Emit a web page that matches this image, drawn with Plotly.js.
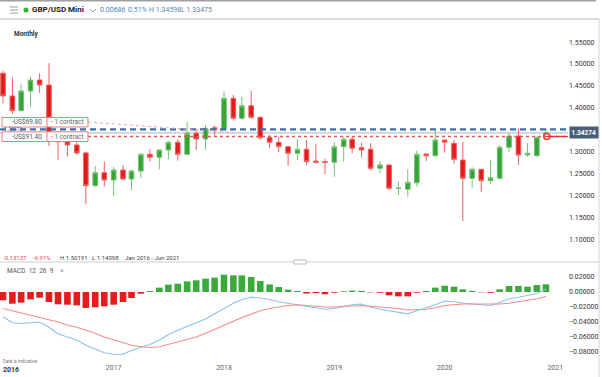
<!DOCTYPE html>
<html><head><meta charset="utf-8">
<script src="https://cdn.plot.ly/plotly-3.0.1.min.js"></script>
<style>html,body{margin:0;padding:0;background:#fff;overflow:hidden}#chart{width:602px;height:377px}</style>
</head><body><div id="chart"></div>
<script>
const months = [
 '2016-01-01','2016-02-01','2016-03-01','2016-04-01','2016-05-01','2016-06-01','2016-07-01','2016-08-01','2016-09-01','2016-10-01','2016-11-01','2016-12-01',
 '2017-01-01','2017-02-01','2017-03-01','2017-04-01','2017-05-01','2017-06-01','2017-07-01','2017-08-01','2017-09-01','2017-10-01','2017-11-01','2017-12-01',
 '2018-01-01','2018-02-01','2018-03-01','2018-04-01','2018-05-01','2018-06-01','2018-07-01','2018-08-01','2018-09-01','2018-10-01','2018-11-01','2018-12-01',
 '2019-01-01','2019-02-01','2019-03-01','2019-04-01','2019-05-01','2019-06-01','2019-07-01','2019-08-01','2019-09-01','2019-10-01','2019-11-01','2019-12-01',
 '2020-01-01','2020-02-01','2020-03-01','2020-04-01','2020-05-01','2020-06-01','2020-07-01','2020-08-01','2020-09-01','2020-10-01','2020-11-01','2020-12-01'];
const openP = [
 1.4788,1.4270,1.3934,1.4384,1.4635,1.4520,1.3264,1.3226,1.3150,1.2970,1.2222,1.2518,
 1.2352,1.2580,1.2374,1.2557,1.2938,1.2870,1.3037,1.3212,1.2938,1.3418,1.3288,1.3545,
 1.3500,1.4217,1.3760,1.4048,1.3783,1.3317,1.3212,1.3112,1.2961,1.3053,1.2785,1.2770,
 1.2756,1.3112,1.3281,1.3090,1.3053,1.2619,1.2694,1.2160,1.2140,1.2287,1.2945,1.2907,
 1.3265,1.3190,1.2808,1.2390,1.2596,1.2336,1.2390,1.3098,1.3356,1.2922,1.2907,1.3359];
const highP = [
 1.4847,1.4696,1.4536,1.4710,1.4788,1.5019,1.3480,1.3370,1.3226,1.2990,1.2671,1.2770,
 1.2655,1.2694,1.2580,1.2960,1.3053,1.3040,1.3245,1.3288,1.3683,1.3490,1.3607,1.3600,
 1.4368,1.4292,1.4253,1.4384,1.3800,1.3379,1.3340,1.3120,1.3288,1.3265,1.3167,1.2838,
 1.3226,1.3340,1.3340,1.3203,1.3189,1.2785,1.2717,1.2313,1.2596,1.3021,1.2959,1.3516,
 1.3270,1.3265,1.3226,1.2642,1.2600,1.2808,1.3151,1.3432,1.3532,1.3189,1.3340,1.3530];
const lowP = [
 1.4100,1.3858,1.3920,1.4025,1.4345,1.3128,1.2810,1.2884,1.2922,1.1797,1.2199,1.2200,
 1.1986,1.2350,1.2123,1.2390,1.2770,1.2596,1.2824,1.2792,1.2930,1.3037,1.3037,1.3340,
 1.3480,1.3710,1.3730,1.3744,1.3265,1.3075,1.2984,1.2671,1.2808,1.2694,1.2733,1.2482,
 1.2427,1.2770,1.2961,1.2870,1.2564,1.2505,1.2123,1.2009,1.1970,1.2199,1.2785,1.2884,
 1.2975,1.2733,1.1416,1.2176,1.2085,1.2260,1.2385,1.2984,1.2694,1.2884,1.2880,1.3265];
const closeP = [
 1.4270,1.3934,1.4384,1.4635,1.4520,1.3264,1.3226,1.3150,1.2970,1.2222,1.2518,1.2352,
 1.2580,1.2374,1.2557,1.2938,1.2870,1.3037,1.3212,1.2938,1.3418,1.3288,1.3532,1.3500,
 1.4217,1.3760,1.4048,1.3783,1.3317,1.3212,1.3112,1.2961,1.3053,1.2770,1.2756,1.2750,
 1.3112,1.3281,1.3075,1.3037,1.2619,1.2694,1.2162,1.2166,1.2299,1.2938,1.2907,1.3265,
 1.3212,1.2824,1.2390,1.2596,1.2336,1.2404,1.3098,1.3356,1.2922,1.2961,1.3326,1.3427];
const macdHist = [
 -0.0110,-0.0156,-0.0142,-0.0098,-0.0076,-0.0133,-0.0164,-0.0169,-0.0178,-0.0213,-0.0204,-0.0191,
 -0.0169,-0.0133,-0.0080,-0.0022,0.0013,0.0058,0.0098,0.0111,0.0142,0.0156,0.0178,0.0191,
 0.0231,0.0222,0.0222,0.0200,0.0147,0.0102,0.0067,0.0031,0.0013,-0.0020,-0.0015,-0.0030,
 -0.0010,0.0010,0.0018,0.0015,-0.0005,-0.0010,-0.0044,-0.0058,-0.0058,-0.0010,0.0015,0.0058,
 0.0084,0.0071,0.0036,0.0015,-0.0005,-0.0010,0.0036,0.0080,0.0080,0.0071,0.0093,0.0102];
const macdLine = [
 -0.033,-0.041,-0.042,-0.041,-0.040,-0.047,-0.056,-0.060,-0.064,-0.071,-0.076,-0.081,
 -0.083,-0.083,-0.078,-0.074,-0.070,-0.064,-0.057,-0.051,-0.046,-0.041,-0.036,-0.029,
 -0.022,-0.015,-0.010,-0.007,-0.008,-0.010,-0.013,-0.015,-0.017,-0.019,-0.021,-0.023,
 -0.022,-0.019,-0.017,-0.016,-0.020,-0.023,-0.025,-0.027,-0.029,-0.025,-0.021,-0.017,
 -0.012,-0.013,-0.015,-0.016,-0.017,-0.018,-0.014,-0.009,-0.007,-0.005,-0.002,0.004];
const signalLine = [
 -0.022,-0.025,-0.028,-0.031,-0.034,-0.037,-0.040,-0.044,-0.047,-0.051,-0.055,-0.060,
 -0.064,-0.068,-0.071,-0.073,-0.074,-0.073,-0.070,-0.067,-0.064,-0.060,-0.055,-0.050,
 -0.045,-0.039,-0.034,-0.029,-0.025,-0.022,-0.020,-0.018,-0.017,-0.018,-0.019,-0.020,
 -0.020,-0.019,-0.018,-0.018,-0.019,-0.020,-0.021,-0.022,-0.024,-0.024,-0.023,-0.021,
 -0.018,-0.017,-0.016,-0.016,-0.016,-0.017,-0.016,-0.015,-0.013,-0.012,-0.009,-0.006];
const yearTicks = ['2017-01-01','2018-01-01','2019-01-01','2020-01-01','2021-01-01'];
const yearLabels = ['2017','2018','2019','2020','2021'];
const firstYearLabel = '2016';
const priceTicks = [1.10,1.15,1.20,1.25,1.30,1.40,1.45,1.50,1.55];
const macdTicks = [0.02,0.00,-0.02,-0.04,-0.06,-0.08];
const currentPrice = 1.34274;
const alertLevel = 1.3508;
const orderLevel = 1.3345;
const orderMarkDate = '2020-12-04';
const xRange = ['2015-12-22','2021-02-12'];

// pixel -> paper helpers (layout decoration only)
const PL=0, PR=568, PT=22, PB=362;
const px = x => (x-PL)/(PR-PL);
const py = y => (PB-y)/(PB-PT);
const FONT = 'Roboto, "Open Sans", sans-serif';

const traces = [
 {type:'candlestick', x:months, open:openP, high:highP, low:lowP, close:closeP,
  xaxis:'x', yaxis:'y', whiskerwidth:0, hoverinfo:'skip',
  increasing:{line:{color:'#72c272', width:1}, fillcolor:'#35a335'},
  decreasing:{line:{color:'#ee6060', width:1}, fillcolor:'#e31b1b'}},
 {type:'bar', x:months, y:macdHist, xaxis:'x', yaxis:'y2', hoverinfo:'skip',
  marker:{color:macdHist.map(v=>v>=0?'#3aab3a':'#e31d1d'), line:{width:0}}},
 {type:'scatter', mode:'lines', x:months, y:macdLine, xaxis:'x', yaxis:'y2',
  line:{color:'#8fc1ea', width:1.2}, hoverinfo:'skip'},
 {type:'scatter', mode:'lines', x:months, y:signalLine, xaxis:'x', yaxis:'y2',
  line:{color:'#f28c8c', width:1.2}, hoverinfo:'skip'},
 {type:'scatter', mode:'markers', x:[orderMarkDate], y:[orderLevel], xaxis:'x', yaxis:'y',
  marker:{color:'#ffffff', size:6, line:{color:'#e03535', width:1.5}}, hoverinfo:'skip', cliponaxis:false}
];

const shapes = [
 {type:'line', xref:'paper', yref:'paper', x0:px(0), x1:px(596), y0:py(0.8), y1:py(0.8), line:{color:'#a0a0a0', width:1.6}},
 {type:'line', xref:'paper', yref:'paper', x0:px(0), x1:px(599), y0:py(19), y1:py(19), line:{color:'#dcdcdc', width:2}},
 {type:'line', xref:'paper', yref:'paper', x0:px(599), x1:px(599), y0:py(19), y1:py(377), line:{color:'#d4d4d4', width:1}},
 {type:'line', xref:'paper', yref:'paper', x0:px(0), x1:px(599), y0:py(262), y1:py(262), line:{color:'#cfcfcf', width:1.2}},
 {type:'rect', xref:'paper', yref:'paper', x0:px(294), x1:px(306), y0:py(264), y1:py(260), fillcolor:'#ffffff', line:{color:'#bdbdbd', width:1}},
 {type:'line', xref:'paper', yref:'paper', x0:px(10), x1:px(18), y0:py(7), y1:py(7), line:{color:'#9a9a9a', width:1}},
 {type:'line', xref:'paper', yref:'paper', x0:px(10), x1:px(18), y0:py(10), y1:py(10), line:{color:'#9a9a9a', width:1}},
 {type:'line', xref:'paper', yref:'paper', x0:px(10), x1:px(18), y0:py(13), y1:py(13), line:{color:'#9a9a9a', width:1}},
 {type:'circle', xref:'paper', yref:'paper', x0:px(23.5), x1:px(28.5), y0:py(7.5), y1:py(12.5), fillcolor:'#2fb52f', line:{width:0}},
 {type:'path', xref:'paper', yref:'paper', path:`M ${px(90)} ${py(9)} L ${px(93)} ${py(12)} L ${px(96)} ${py(9)}`, line:{color:'#999', width:1}},
 {type:'line', xref:'paper', yref:'y', x0:0, x1:1, y0:currentPrice, y1:currentPrice, line:{color:'#d5d9e0', width:2.2}, layer:'below'},
 {type:'line', xref:'paper', yref:'y', x0:0, x1:1, y0:alertLevel, y1:alertLevel, line:{color:'#3f6fa8', width:2.4, dash:'6px,4px'}},
 {type:'line', xref:'paper', yref:'y', x0:px(88), x1:1, y0:orderLevel, y1:orderLevel, line:{color:'#e25858', width:1.4, dash:'3px,3px'}},
 {type:'line', xref:'x', yref:'y', x0:orderMarkDate, x1:xRange[1], y0:orderLevel, y1:orderLevel, line:{color:'#e03535', width:1.4}},
 {type:'path', xref:'paper', yref:'paper', path:`M ${px(88)} ${py(122)} L ${px(150)} ${py(126.5)} L ${px(233)} ${py(132.5)}`, line:{color:'#f2a3a3', width:1, dash:'3px,3px'}},
 {type:'rect', xref:'paper', yref:'paper', x0:px(2), x1:px(88), y0:py(117.5), y1:py(127), fillcolor:'#ffffff', line:{color:'#e88080', width:1}},
 {type:'line', xref:'paper', yref:'paper', x0:px(47), x1:px(47), y0:py(117.5), y1:py(127), line:{color:'#e88080', width:1}},
 {type:'rect', xref:'paper', yref:'paper', x0:px(2), x1:px(88), y0:py(131.8), y1:py(141.5), fillcolor:'#ffffff', line:{color:'#e88080', width:1}},
 {type:'line', xref:'paper', yref:'paper', x0:px(47), x1:px(47), y0:py(131.8), y1:py(141.5), line:{color:'#e88080', width:1}}
];

function ann(x, y, text, size, color, anchor, extra){
 return Object.assign({xref:'paper', yref:'paper', x:px(x), y:py(y), text:text, showarrow:false,
  xanchor:anchor||'left', yanchor:'middle', font:{family:FONT, size:size, color:color}, borderpad:0}, extra||{});
}
const annotations = [
 ann(31, 10, '<b>GBP/USD Mini</b>', 8, '#222'),
 ann(99, 10.5, '0.00686', 7, '#4a86c8'),
 ann(127, 10.5, '0.51%', 7, '#4a86c8'),
 ann(148, 10.5, 'H 1.34598', 7, '#5b7fae'),
 ann(180, 10.5, 'L 1.33475', 7, '#5b7fae'),
 ann(13, 33.5, '<b>Monthly</b>', 6.5, '#333'),
 ann(2, 257, '-0.13137', 6, '#e04848'),
 ann(32, 257, '-6.91%', 6, '#e04848'),
 ann(59, 257, 'H 1.50191', 6, '#444'),
 ann(91, 257, 'L 1.14098', 6, '#444'),
 ann(124, 257, 'Jan 2016 - Jun 2021', 6, '#444'),
 ann(6, 271, 'MACD  12  26  9', 6.5, '#555'),
 ann(59, 270.5, '×', 7, '#999'),
 ann(2, 361, 'Data is indicative', 4.5, '#777'),
 ann(2, 370, '<b>'+firstYearLabel+'</b>', 7, '#333'),
 ann(3, 129.3, '1.35072', 5, '#5577aa'),
 ann(43, 122.3, '-US$69.80', 6.5, '#555', 'right'),
 ann(50, 122.3, '- 1 contract', 6.5, '#666'),
 ann(43, 136.7, '-US$91.40', 6.5, '#555', 'right'),
 ann(50, 136.7, '- 1 contract', 6.5, '#666'),
 {xref:'paper', yref:'y', x:px(569), y:currentPrice, text:'<b>'+currentPrice.toFixed(5)+'</b>', showarrow:false,
  xanchor:'left', yanchor:'middle', bgcolor:'#4a5e78', borderpad:1.5, font:{family:FONT, size:6.5, color:'#ffffff'}}
];

const layout = {
 width:602, height:377, margin:{l:PL, r:602-PR, t:PT, b:377-PB},
 paper_bgcolor:'#ffffff', plot_bgcolor:'#ffffff', showlegend:false,
 font:{family:FONT, size:7, color:'#333'},
 bargap:0.22, boxgap:0.22,
 xaxis:{type:'date', range:xRange, anchor:'y2', tickmode:'array', tickvals:yearTicks, ticktext:yearLabels,
  showgrid:false, zeroline:false, showline:false, ticks:'', tickfont:{size:7, color:'#666'},
  rangeslider:{visible:false}, fixedrange:true},
 yaxis:{domain:[py(250),py(22)], range:[1.07534,1.5959], side:'right', tickmode:'array', tickvals:priceTicks,
  tickformat:'.5f', showgrid:false, zeroline:false, showline:false, ticks:'', tickfont:{size:7, color:'#333'}},
 yaxis2:{domain:[py(362),py(266)], range:[-0.0933,0.03467], side:'right', tickmode:'array', tickvals:macdTicks,
  tickformat:'.5f', showgrid:false, zeroline:false, showline:false, ticks:'', tickfont:{size:7, color:'#333'}},
 shapes:shapes, annotations:annotations
};
Plotly.newPlot('chart', traces, layout, {staticPlot:true, displayModeBar:false});
</script></body></html>
